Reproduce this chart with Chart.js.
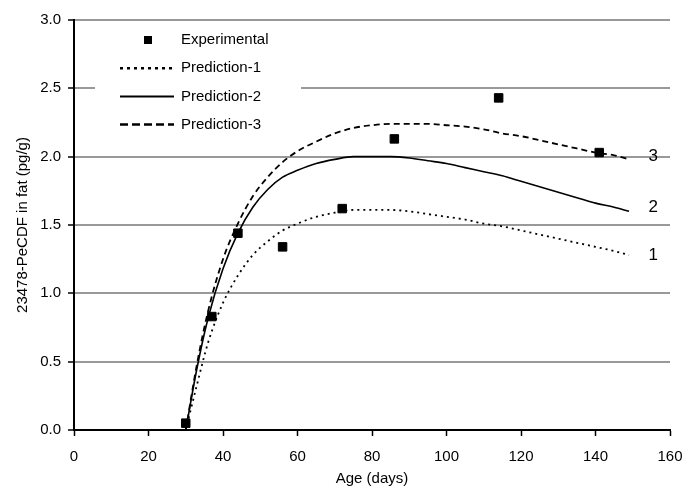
<!DOCTYPE html>
<html>
<head>
<meta charset="utf-8">
<script src="https://cdn.jsdelivr.net/npm/chart.js@4.4.1/dist/chart.umd.min.js"></script>
<style>
  html, body { margin: 0; padding: 0; background: #fff; }
  #wrap { width: 688px; height: 488px; }
</style>
</head>
<body>
<div id="wrap"><canvas id="chart" width="688" height="488"></canvas></div>
<script>
// Experimental measurements
const expDays = [30, 37, 44, 56, 72, 86, 114, 141];
const expValues = [0.05, 0.83, 1.44, 1.34, 1.62, 2.13, 2.43, 2.03];

// Model predictions
const predDays = [30, 33, 36, 40, 44, 48, 52, 56, 60, 65, 70, 75, 80, 85, 90, 95, 100, 105, 110, 115, 120, 125, 130, 135, 140, 145, 149];
const pred1 = [0, 0.33, 0.64, 0.93, 1.13, 1.28, 1.38, 1.46, 1.51, 1.56, 1.59, 1.61, 1.61, 1.61, 1.60, 1.58, 1.56, 1.54, 1.51, 1.49, 1.46, 1.43, 1.40, 1.37, 1.34, 1.31, 1.28];
const pred2 = [0, 0.45, 0.82, 1.18, 1.44, 1.63, 1.76, 1.85, 1.90, 1.95, 1.98, 2.00, 2.00, 2.00, 1.99, 1.97, 1.95, 1.92, 1.89, 1.86, 1.82, 1.78, 1.74, 1.70, 1.66, 1.63, 1.60];
const pred3 = [0, 0.48, 0.87, 1.25, 1.51, 1.71, 1.85, 1.96, 2.04, 2.11, 2.17, 2.21, 2.23, 2.24, 2.24, 2.24, 2.23, 2.22, 2.20, 2.17, 2.15, 2.12, 2.09, 2.06, 2.03, 2.01, 1.98];

// Curve end labels
const endLabels = ['3', '2', '1'];
const endLabelY = [2.0, 1.63, 1.28];
const endLabelX = 155.5;

const FONT = '"Liberation Sans", Arial, sans-serif';

const toXY = (xs, ys) => xs.map((x, i) => ({ x, y: ys[i] }));

const legendItems = [
  { text: 'Experimental', kind: 'point' },
  { text: 'Prediction-1', kind: 'line', dash: [3, 4], width: 2.5 },
  { text: 'Prediction-2', kind: 'line', dash: [], width: 2 },
  { text: 'Prediction-3', kind: 'line', dash: [8, 4], width: 2.5 }
];

const overlay = {
  id: 'overlay',
  afterDraw(chart) {
    const { ctx, scales } = chart;
    ctx.save();
    // curve labels
    ctx.fillStyle = '#000';
    ctx.font = '17px ' + FONT;
    ctx.textAlign = 'center';
    ctx.textBaseline = 'middle';
    endLabels.forEach((t, i) => {
      ctx.fillText(t, scales.x.getPixelForValue(endLabelX), scales.y.getPixelForValue(endLabelY[i]));
    });
    // legend box (white, hides the gridline behind it)
    ctx.fillStyle = '#fff';
    ctx.fillRect(95, 26, 206, 110);
    ctx.font = '15px ' + FONT;
    ctx.textAlign = 'left';
    ctx.fillStyle = '#000';
    legendItems.forEach((it, i) => {
      const y = 40 + i * 28.2;
      if (it.kind === 'point') {
        ctx.fillRect(144, y - 4, 8, 8);
      } else {
        ctx.strokeStyle = '#000';
        ctx.lineWidth = it.width;
        ctx.setLineDash(it.dash);
        ctx.beginPath();
        ctx.moveTo(120, y);
        ctx.lineTo(174, y);
        ctx.stroke();
        ctx.setLineDash([]);
      }
      ctx.fillText(it.text, 181, y);
    });
    ctx.restore();
  }
};

new Chart(document.getElementById('chart'), {
  type: 'scatter',
  data: {
    datasets: [
      {
        label: 'Experimental',
        data: toXY(expDays, expValues),
        pointStyle: 'rect',
        pointRadius: 6,
        backgroundColor: '#000',
        borderColor: '#000',
        showLine: false,
        order: 0
      },
      {
        label: 'Prediction-1',
        data: toXY(predDays, pred1),
        showLine: true,
        pointRadius: 0,
        borderColor: '#000',
        borderWidth: 1.8,
        borderDash: [2, 4],
        cubicInterpolationMode: 'monotone',
        order: 1
      },
      {
        label: 'Prediction-2',
        data: toXY(predDays, pred2),
        showLine: true,
        pointRadius: 0,
        borderColor: '#000',
        borderWidth: 1.6,
        cubicInterpolationMode: 'monotone',
        order: 1
      },
      {
        label: 'Prediction-3',
        data: toXY(predDays, pred3),
        showLine: true,
        pointRadius: 0,
        borderColor: '#000',
        borderWidth: 1.8,
        borderDash: [6, 4],
        cubicInterpolationMode: 'monotone',
        order: 1
      }
    ]
  },
  options: {
    responsive: false,
    animation: false,
    layout: { padding: { top: 20, right: 18, left: 0, bottom: 0 } },
    plugins: {
      legend: { display: false },
      tooltip: { enabled: false }
    },
    scales: {
      x: {
        type: 'linear',
        min: 0,
        max: 160,
        ticks: { stepSize: 20, color: '#000', font: { family: FONT, size: 15 }, padding: 12 },
        grid: { drawOnChartArea: false, tickColor: '#000', tickLength: 6, tickWidth: 1.5 },
        border: { color: '#000', width: 2 },
        title: { display: true, text: 'Age (days)', color: '#000', font: { family: FONT, size: 15 }, padding: { top: 0, bottom: 0 } },
        afterFit: s => { s.height = 58; s.paddingLeft = 0; s.paddingRight = 0; }
      },
      y: {
        min: 0,
        max: 3,
        ticks: { stepSize: 0.5, color: '#000', font: { family: FONT, size: 15 }, padding: 7,
          callback: v => v.toFixed(1) },
        grid: { color: '#999', lineWidth: 2, tickColor: '#000', tickLength: 6, tickWidth: 1.5 },
        border: { color: '#000', width: 2 },
        title: { display: true, text: '23478-PeCDF in fat (pg/g)', color: '#000', font: { family: FONT, size: 15 }, padding: { top: 14, bottom: 4 } },
        afterFit: s => { s.width = 74; }
      }
    }
  },
  plugins: [overlay]
});
</script>
</body>
</html>
